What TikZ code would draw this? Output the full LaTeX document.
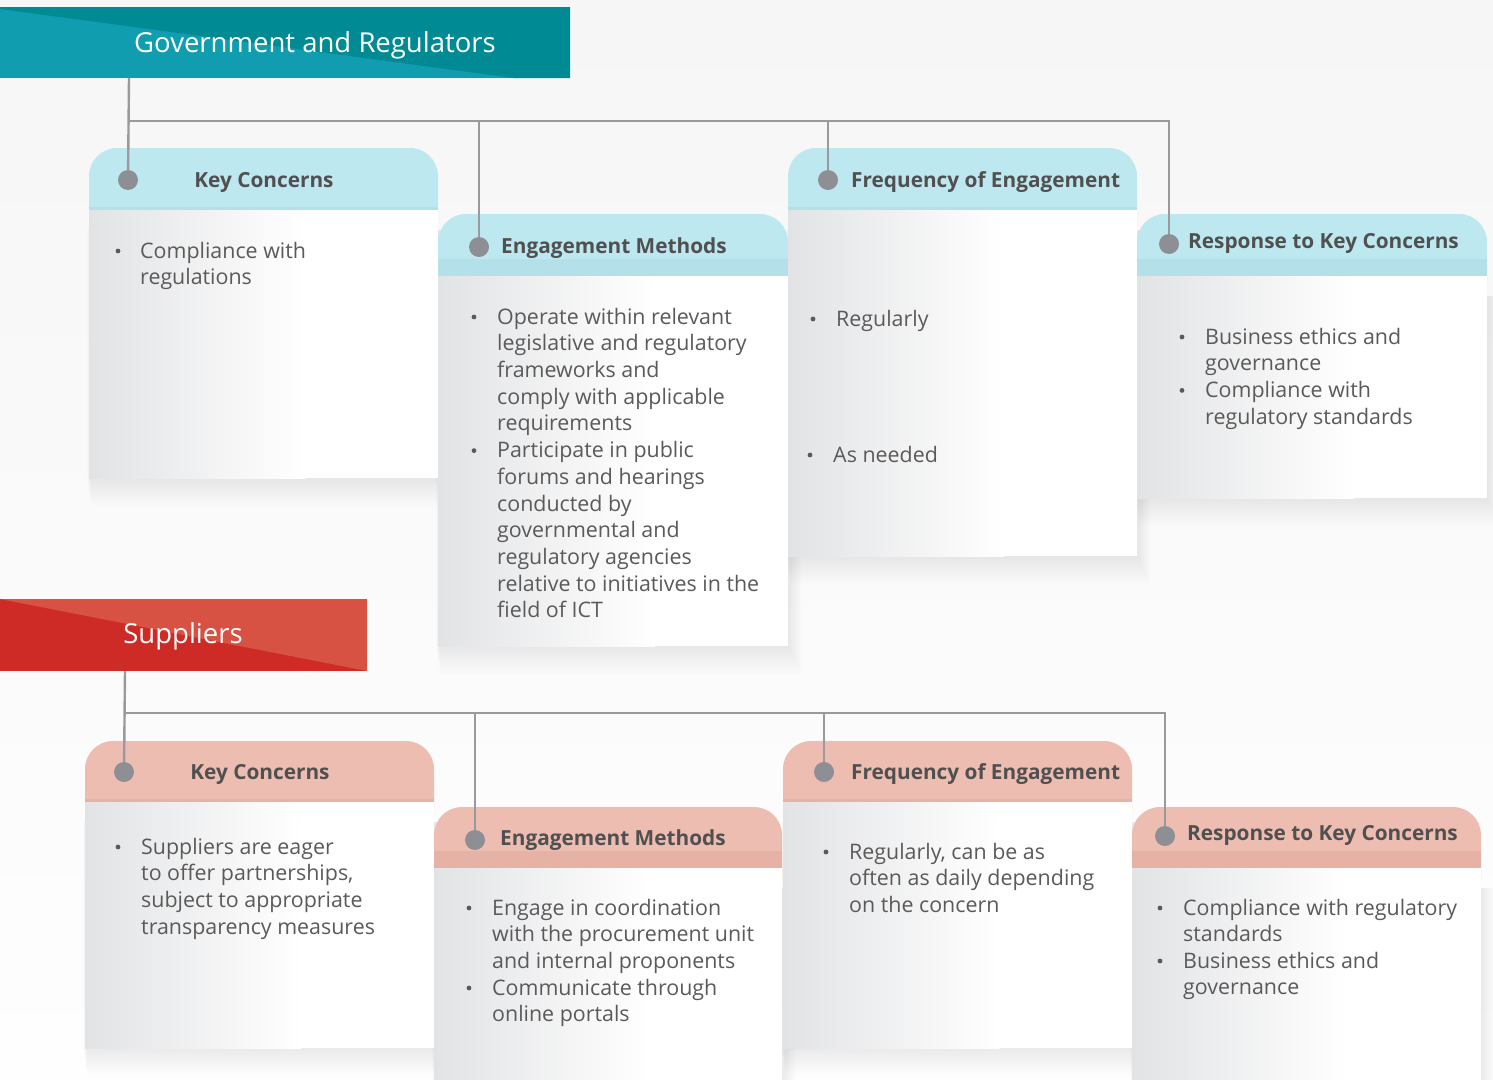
\documentclass[tikz,border=0pt]{standalone}
\usepackage{fontspec}
\setmainfont{Open Sans}
\usetikzlibrary{calc}

\definecolor{bgtop}{HTML}{F6F6F6}
\definecolor{bgbot}{HTML}{FEFEFE}
\definecolor{tealL}{HTML}{0F9DAF}
\definecolor{tealD}{HTML}{008A93}
\definecolor{redL}{HTML}{D75242}
\definecolor{redD}{HTML}{CE2B27}
\definecolor{cyanhead}{HTML}{BEE8F0}
\definecolor{cyanband}{HTML}{B3E0E9}
\definecolor{salmonhead}{HTML}{EDBDB1}
\definecolor{salmonband}{HTML}{E6B2A6}
\definecolor{bodyL}{HTML}{E2E3E5}
\definecolor{linkgray}{HTML}{9A9A9E}
\definecolor{dotgray}{HTML}{8E8F94}
\definecolor{headtext}{HTML}{505050}
\definecolor{bodytextc}{HTML}{5A5A5A}

\tikzset{
  conn/.style={draw=linkgray, line width=2.4pt},
  dot/.style={circle, fill=dotgray, minimum size=20pt, inner sep=0pt},
  headlabel/.style={font=\fontsize{20.8}{24}\selectfont\bfseries, text=headtext, inner sep=0pt},
  bodyline/.style={font=\fontsize{21.4}{27}\selectfont, text=bodytextc, inner sep=0pt, anchor=base west},
  bannerlabel/.style={font=\fontsize{27.5}{32}\selectfont, text=white, inner sep=0pt, anchor=base},
}

% soft shadow under a card body: x1, x2, body top, bottom
\newcommand\cardshadow[4]{%
  \foreach \s in {1,...,20}{%
    \fill[black, opacity=0.0045] ({#1-2+\s*0.2}, {#3+20}) rectangle ({#2+\s*0.7}, {#4+\s*1.4});
  }%
}
% card: x1, x2, top, header bottom, body bottom, header colour, band height, band colour
\newcommand\drawcard[8]{%
  \fill[#6, rounded corners=28pt] (#1,#3) rectangle (#2,{#4+40});
  \fill[#8] (#1,{#4-#7}) rectangle (#2,#4);
  \fill[white] (#1,#4) rectangle (#2,#5);
  \shade[left color=bodyL, right color=white] (#1,#4) rectangle ({#1+0.62*(#2-#1)},#5);
}
% bullet item: name, bullet x, text x, first baseline, lines
\newcommand\bitem[5]{%
  \fill[bodytextc] (#2,{#4-7}) circle (2.4);
  \foreach \ln [count=\k from 0] in {#5}{%
    \node[bodyline] (#1-\k) at (#3,{#4+\k*26.7}) {\ln};
  }%
}

\begin{document}
\begin{tikzpicture}[x=1pt, y=-1pt]
  \useasboundingbox (0,0) rectangle (1493,1079);
  \shade[top color=bgtop, bottom color=bgbot] (0,0) rectangle (1493,1079);

  % ---------- Government and Regulators ----------
  \fill[tealL] (0,7) rectangle (570,78);
  \fill[tealD] (0,7) -- (570,7) -- (570,78) -- (513,78) -- (0,9) -- cycle;
  \node[bannerlabel] (gtitle) at (315,52) {Government and Regulators};
  \coordinate (gban) at (129,78);

  \cardshadow{89}{438}{210}{478}
  \cardshadow{438}{788}{276}{646}
  \cardshadow{788}{1137}{210}{556}
  \cardshadow{1137}{1487}{276}{498}

  \drawcard{89}{438}{148}{210}{478}{cyanhead}{3}{cyanband}
  \drawcard{438}{788}{214}{276}{646}{cyanhead}{17}{cyanband}
  \drawcard{788}{1137}{148}{210}{556}{cyanhead}{3}{cyanband}
  \drawcard{1137}{1487}{214}{276}{498}{cyanhead}{17}{cyanband}

  \coordinate (g1) at (128,180);
  \coordinate (g2) at (479,247);
  \coordinate (g3) at (828,180);
  \coordinate (g4) at (1169,244);
  \coordinate (gbus) at (0,121);
  \draw[conn] (gban) -- (g1);
  \draw[conn] (g1 |- gbus) -- (g4 |- gbus) -- (g4);
  \draw[conn] (g2 |- gbus) -- (g2);
  \draw[conn] (g3 |- gbus) -- (g3);
  \foreach \d in {g1,g2,g3,g4} \node[dot] (\d-dot) at (\d) {};

  \node[headlabel, anchor=base] (gh1) at (264,187) {Key Concerns};
  \node[headlabel, anchor=base west] (gh2) at (501,253) {Engagement Methods};
  \node[headlabel, anchor=base west] (gh3) at (851,187) {Frequency of Engagement};
  \node[headlabel, anchor=base west] (gh4) at (1188,248) {Response to Key Concerns};

  \bitem{ga}{118}{140}{258}{Compliance with, regulations}
  \bitem{gb}{474}{497}{324}{Operate within relevant, legislative and regulatory, frameworks and, comply with applicable, requirements}
  \bitem{gc}{474}{497}{457.6}{Participate in public, forums and hearings, conducted by, governmental and, regulatory agencies, relative to initiatives in the, field of ICT}
  \bitem{gd}{813}{836}{326}{Regularly}
  \bitem{ge}{810}{833}{462}{As needed}
  \bitem{gf}{1182}{1205}{344}{Business ethics and, governance}
  \bitem{gg}{1182}{1205}{397.4}{Compliance with, regulatory standards}

  % ---------- Suppliers ----------
  \fill[redD] (0,599) rectangle (367,671);
  \fill[redL] (0,599) -- (367,599) -- (367,671) -- cycle;
  \node[bannerlabel] (stitle) at (183,643) {Suppliers};
  \coordinate (sban) at (125,671);

  \cardshadow{85}{434}{802}{1048}
  \cardshadow{434}{782}{868}{1100}
  \cardshadow{783}{1132}{802}{1048}
  \cardshadow{1132}{1481}{868}{1100}

  \drawcard{85}{434}{741}{802}{1048}{salmonhead}{3}{salmonband}
  \drawcard{434}{782}{807}{868}{1085}{salmonhead}{17}{salmonband}
  \drawcard{783}{1132}{741}{802}{1048}{salmonhead}{3}{salmonband}
  \drawcard{1132}{1481}{807}{868}{1085}{salmonhead}{17}{salmonband}

  \coordinate (s1) at (124,772);
  \coordinate (s2) at (475,840);
  \coordinate (s3) at (824,772);
  \coordinate (s4) at (1165,836);
  \coordinate (sbus) at (0,713);
  \draw[conn] (sban) -- (s1);
  \draw[conn] (s1 |- sbus) -- (s4 |- sbus) -- (s4);
  \draw[conn] (s2 |- sbus) -- (s2);
  \draw[conn] (s3 |- sbus) -- (s3);
  \foreach \d in {s1,s2,s3,s4} \node[dot] (\d-dot) at (\d) {};

  \node[headlabel, anchor=base] (sh1) at (260,779) {Key Concerns};
  \node[headlabel, anchor=base west] (sh2) at (500,845) {Engagement Methods};
  \node[headlabel, anchor=base west] (sh3) at (851,779) {Frequency of Engagement};
  \node[headlabel, anchor=base west] (sh4) at (1187,840) {Response to Key Concerns};

  \bitem{sa}{118}{141}{854}{Suppliers are eager, {to offer partnerships,}, subject to appropriate, transparency measures}
  \bitem{sb}{469}{492}{915}{Engage in coordination, with the procurement unit, and internal proponents}
  \bitem{sc}{469}{492}{995}{Communicate through, online portals}
  \bitem{sd}{826}{849}{859}{{Regularly, can be as}, often as daily depending, on the concern}
  \bitem{se}{1160}{1183}{915}{Compliance with regulatory, standards}
  \bitem{sf}{1160}{1183}{968}{Business ethics and, governance}
\end{tikzpicture}
\end{document}
